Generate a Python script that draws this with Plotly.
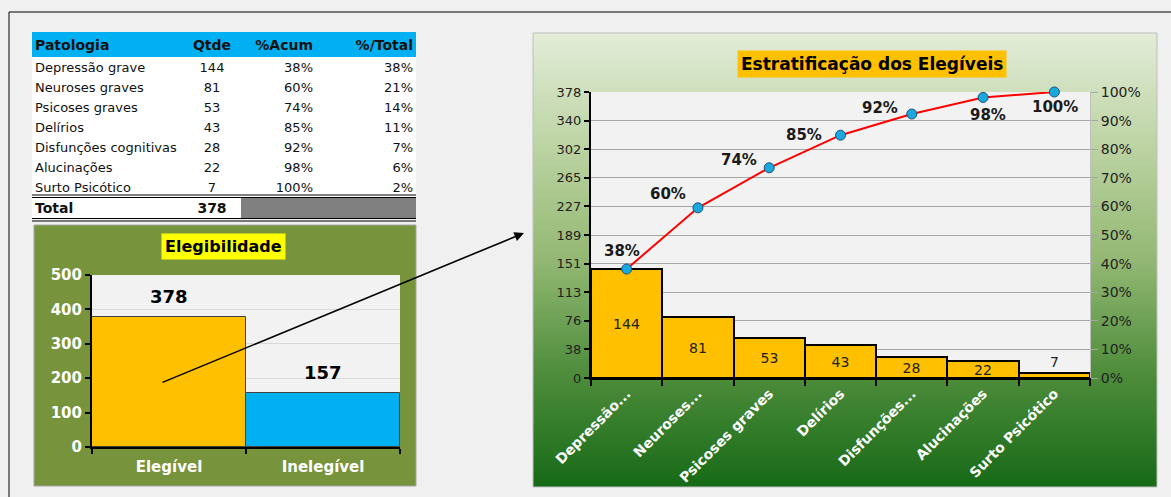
import plotly.graph_objects as go

W, H = 1171, 497

# ---------------- data ----------------
headers = ["Patologia", "Qtde", "%Acum", "%/Total"]
patologias = ["Depressão grave", "Neuroses graves", "Psicoses graves", "Delírios",
              "Disfunções cognitivas", "Alucinações", "Surto Psicótico"]
qtde = [144, 81, 53, 43, 28, 22, 7]
pct_acum_lbl = ["38%", "60%", "74%", "85%", "92%", "98%", "100%"]
pct_total_lbl = ["38%", "21%", "14%", "11%", "7%", "6%", "2%"]
total_label = "Total"
total_qtde = 378
cum_frac = [0.381, 0.595, 0.735, 0.849, 0.923, 0.981, 1.0]
pareto_ticktext = ["Depressão...", "Neuroses...", "Psicoses graves", "Delírios",
                   "Disfunções...", "Alucinações", "Surto Psicótico"]
left_ticktext = ["0", "38", "76", "113", "151", "189", "227", "265", "302", "340", "378"]
eleg_cats = ["Elegível", "Inelegível"]
eleg_vals = [378, 157]

FONT = "DejaVu Sans"


def X(px):
    return px / W


def Y(py):
    return 1 - py / H


fig = go.Figure()

# ---------------- table ----------------
TCOLW = [163, 44, 87, 100]
TALIGN = ["left", "center", "right", "right"]
NOLINE = dict(color="rgba(0,0,0,0)", width=0)
fig.add_trace(go.Table(
    domain=dict(x=[X(27), X(421)], y=[Y(200), Y(31)]),
    columnwidth=TCOLW,
    header=dict(values=headers, fill_color="rgba(0,0,0,0)", line=NOLINE, align=TALIGN,
                font=dict(family=FONT, size=14, color="#111", weight="bold"), height=23),
    cells=dict(values=[patologias, [str(v) for v in qtde], pct_acum_lbl, pct_total_lbl],
               fill_color="rgba(0,0,0,0)", line=NOLINE, align=TALIGN,
               font=dict(family=FONT, size=13, color="#111"), height=20),
))
# total row (bold)
fig.add_trace(go.Table(
    domain=dict(x=[X(27), X(421)], y=[Y(222), Y(194)]),
    columnwidth=TCOLW,
    header=dict(values=[total_label, str(total_qtde), "", ""], fill_color="rgba(0,0,0,0)",
                line=NOLINE, align=TALIGN,
                font=dict(family=FONT, size=14, color="#111", weight="bold"), height=20),
    cells=dict(values=[[], [], [], []], fill_color="rgba(0,0,0,0)", line=NOLINE),
))

# ---------------- Elegibilidade ----------------
fig.add_trace(go.Bar(
    x=eleg_cats, y=eleg_vals, xaxis="x", yaxis="y", width=1,
    marker=dict(color=["#ffc000", "#00b0f0"], line=dict(color="#404040", width=1)),
    showlegend=False, hoverinfo="skip",
))

# ---------------- Pareto ----------------
fig.add_trace(go.Bar(
    x=patologias, y=qtde, xaxis="x2", yaxis="y2", width=1,
    marker=dict(color="#ffc000", line=dict(color="black", width=2)),
    text=[str(v) for v in qtde],
    textposition=["inside"] * 6 + ["outside"],
    insidetextanchor="middle", constraintext="none",
    textfont=dict(family=FONT, size=14, color="#222"),
    cliponaxis=False, showlegend=False, hoverinfo="skip",
))
fig.add_trace(go.Scatter(
    x=patologias, y=cum_frac, xaxis="x2", yaxis="y3", mode="lines+markers",
    line=dict(color="#ff0000", width=2),
    marker=dict(size=10, color="#19a9dc", line=dict(color="#1f4f7a", width=1)),
    cliponaxis=False, showlegend=False, hoverinfo="skip",
))

# ---------------- shapes (backgrounds) ----------------
shapes = []
# outer frame
shapes.append(dict(type="line", xref="paper", yref="paper", x0=X(9), x1=1, y0=Y(12), y1=Y(12),
                   line=dict(color="black", width=1), layer="below"))
shapes.append(dict(type="line", xref="paper", yref="paper", x0=X(9), x1=X(9), y0=Y(12), y1=0,
                   line=dict(color="black", width=1), layer="below"))
# olive box
shapes.append(dict(type="rect", xref="paper", yref="paper", x0=X(34), x1=X(416), y0=Y(486), y1=Y(225),
                   fillcolor="#77933c", line=dict(color="#a6a6a6", width=1), layer="below"))
shapes.append(dict(type="rect", xref="x domain", yref="y domain", x0=0, x1=1, y0=0, y1=1,
                   fillcolor="#f2f2f2", line=dict(width=0), layer="below"))

# gradient box (Pareto)
stops = [(0.0, (0xe2, 0xec, 0xd8)), (0.25, (0xbc, 0xd3, 0xa2)), (0.5, (0x93, 0xb8, 0x73)),
         (0.75, (0x4e, 0x8d, 0x3c)), (1.0, (0x17, 0x6a, 0x17))]


def grad(t):
    for (t0, c0), (t1, c1) in zip(stops[:-1], stops[1:]):
        if t <= t1:
            f = (t - t0) / (t1 - t0)
            return "rgb(%d,%d,%d)" % tuple(round(a + (b - a) * f) for a, b in zip(c0, c1))
    return "rgb(%d,%d,%d)" % stops[-1][1]


gy0, gy1, step = 33, 487, 2
n = (gy1 - gy0) // step
for i in range(n):
    y0 = gy0 + i * step
    shapes.append(dict(type="rect", xref="paper", yref="paper", x0=X(533), x1=X(1157),
                       y0=Y(min(y0 + step + 1, gy1)), y1=Y(y0),
                       fillcolor=grad(i / (n - 1)), line=dict(width=0), layer="below"))
shapes.append(dict(type="rect", xref="paper", yref="paper", x0=X(533), x1=X(1157), y0=Y(487), y1=Y(33),
                   fillcolor="rgba(0,0,0,0)", line=dict(color="#bfbfbf", width=1), layer="below"))
shapes.append(dict(type="rect", xref="x2 domain", yref="y2 domain", x0=0, x1=1, y0=0, y1=1,
                   fillcolor="#f2f2f2", line=dict(width=0), layer="below"))

# table fills
shapes.append(dict(type="rect", xref="paper", yref="paper", x0=X(32), x1=X(416), y0=Y(57), y1=Y(32),
                   fillcolor="#00b0f0", line=dict(width=0), layer="below"))
shapes.append(dict(type="rect", xref="paper", yref="paper", x0=X(32), x1=X(416), y0=Y(218), y1=Y(57),
                   fillcolor="#ffffff", line=dict(width=0), layer="below"))
shapes.append(dict(type="rect", xref="paper", yref="paper", x0=X(241), x1=X(416), y0=Y(218), y1=Y(198),
                   fillcolor="#808080", line=dict(width=0), layer="below"))
for yy in (195, 197.5, 218.5, 221):
    shapes.append(dict(type="line", xref="paper", yref="paper", x0=X(32), x1=X(416), y0=Y(yy), y1=Y(yy),
                       line=dict(color="black", width=1), layer="below"))

# ---------------- annotations ----------------
ann = []
ann.append(dict(text="<b>Elegibilidade</b>", xref="paper", yref="paper", x=X(224), y=Y(246),
                xanchor="center", yanchor="middle",
                showarrow=False, bgcolor="#ffff00", borderpad=3,
                font=dict(family=FONT, size=16, color="black")))
ann.append(dict(text="<b>Estratificação dos Elegíveis</b>", xref="paper", yref="paper", x=X(872), y=Y(64),
                xanchor="center", yanchor="middle",
                showarrow=False, bgcolor="#ffc000", borderpad=3,
                font=dict(family=FONT, size=17, color="black")))
for c, v in zip(eleg_cats, eleg_vals):
    ann.append(dict(text=f"<b>{v}</b>", xref="x", yref="y", x=c, y=v, xanchor="center", yanchor="bottom",
                    yshift=8, showarrow=False, font=dict(family=FONT, size=18, color="black")))
offsets = [(-5, 18), (-30, 14), (-30, 8), (-37, 0), (-32, 6), (5, -18), (1, -15)]
for c, v, lbl, (dx, dy) in zip(patologias, cum_frac, pct_acum_lbl, offsets):
    ann.append(dict(text=f"<b>{lbl}</b>", xref="x2", yref="y3", x=c, y=v, xshift=dx, yshift=dy,
                    xanchor="center", yanchor="middle",
                    showarrow=False, font=dict(family=FONT, size=15, color="#1a1a1a")))
# arrow
ann.append(dict(text="", xref="paper", yref="paper", x=X(524), y=Y(233), ax=161 - 524, ay=383 - 233,
                axref="pixel", ayref="pixel", showarrow=True, arrowhead=2, arrowsize=1.2,
                arrowwidth=1.6, arrowcolor="black", standoff=0))

axis_black = dict(showline=True, linecolor="black", linewidth=2, ticks="outside",
                  tickcolor="black", tickwidth=2, zeroline=False)

fig.update_layout(
    width=W, height=H, autosize=False,
    margin=dict(l=0, r=0, t=0, b=0, pad=0, autoexpand=False),
    paper_bgcolor="#f0f0f0", plot_bgcolor="rgba(0,0,0,0)",
    showlegend=False, bargap=0,
    shapes=shapes, annotations=ann,
    xaxis=dict(domain=[X(92), X(400)], anchor="y", tickson="boundaries", ticklen=5, showgrid=False,
               tickfont=dict(family=FONT, size=15, color="white", weight="bold"),
               ticklabelstandoff=5, **axis_black),
    yaxis=dict(domain=[Y(447), Y(275)], anchor="x", range=[0, 500], tickvals=[0, 100, 200, 300, 400, 500],
               ticklen=5, showgrid=True, gridcolor="#d9d9d9", gridwidth=1,
               tickfont=dict(family=FONT, size=15, color="white", weight="bold"), **axis_black),
    xaxis2=dict(domain=[X(591), X(1090)], anchor="y2", tickson="boundaries", ticklen=6, showgrid=False,
                tickvals=patologias, ticktext=pareto_ticktext, tickangle=-45,
                tickfont=dict(family=FONT, size=14, color="white", weight="bold"), **axis_black),
    yaxis2=dict(domain=[Y(378), Y(92)], anchor="x2", range=[0, total_qtde],
                tickvals=[total_qtde * k / 10 for k in range(11)], ticktext=left_ticktext,
                ticklen=5, showgrid=True, gridcolor="#a6a6a6", gridwidth=1,
                tickfont=dict(family=FONT, size=13, color="#222"), **axis_black),
    yaxis3=dict(overlaying="y2", side="right", anchor="x2", range=[0, 1],
                tickvals=[k / 10 for k in range(11)], tickformat=".0%", showgrid=False,
                showline=True, linecolor="#bfbfbf", linewidth=1, ticks="outside", ticklen=7,
                tickcolor="#a6a6a6", zeroline=False,
                tickfont=dict(family=FONT, size=14, color="#222")),
)

fig.write_html("out.html", config={"displayModeBar": False})
